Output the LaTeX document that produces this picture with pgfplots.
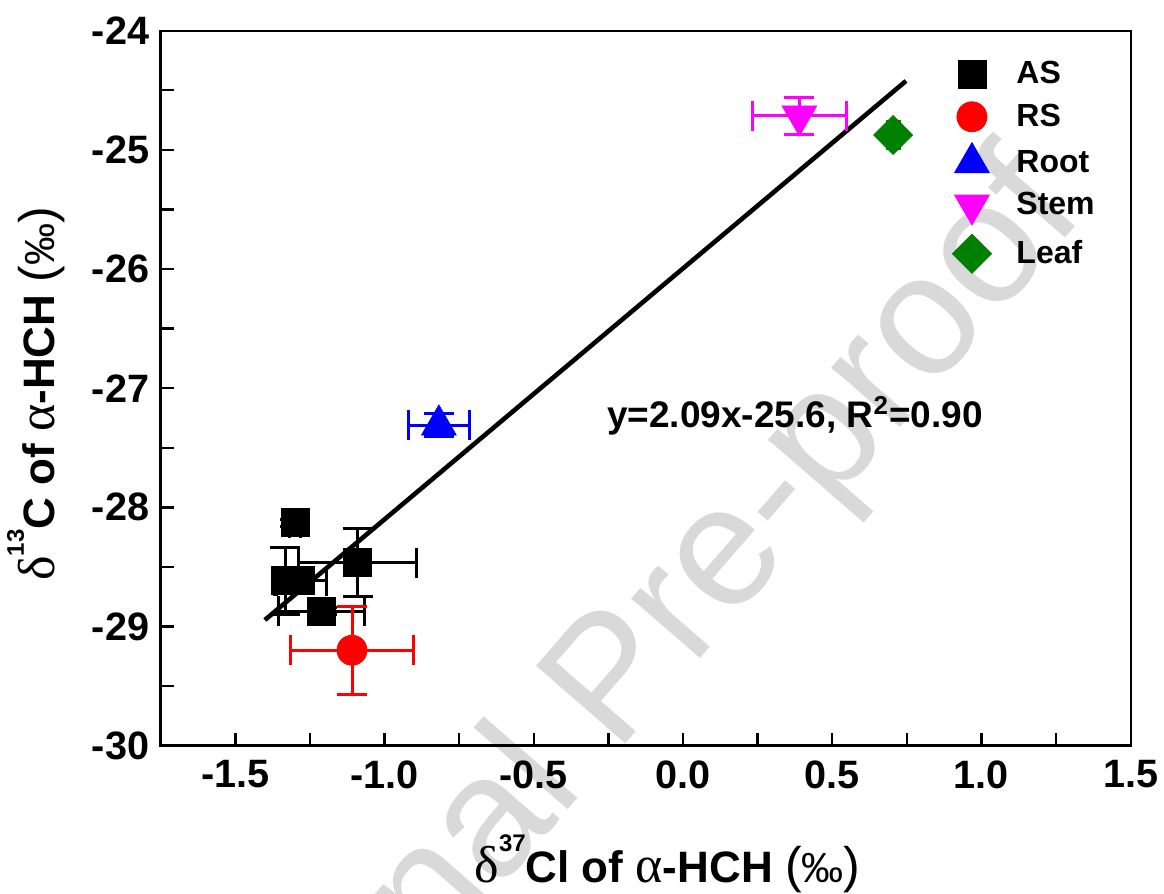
\documentclass[border=0pt]{standalone}
\usepackage{pgfplots}
\pgfplotsset{compat=1.18}
\usepackage{fontspec}
\setmainfont{Liberation Sans}
\newfontfamily\grk{Liberation Serif}
\definecolor{dgreen}{RGB}{0,128,0}
\definecolor{mag}{RGB}{255,0,255}

\newcommand\upnum[1]{\raisebox{15.5pt}{\fontsize{12}{12}\selectfont #1}}
\newcommand\gr[1]{{\grk\mdseries\fontsize{26}{26}\selectfont #1}}
\newcommand\permil{{\mdseries\fontsize{25}{25}\selectfont(}{\mdseries\fontsize{21}{21}\selectfont ‰}{\mdseries\fontsize{25}{25}\selectfont)}}

\pgfplotsset{
  ebar/.style={
    /pgfplots/error bars/x dir=both, /pgfplots/error bars/x explicit,
    /pgfplots/error bars/y dir=both, /pgfplots/error bars/y explicit,
    /pgfplots/error bars/error bar style={line width=1.5pt, #1},
    /pgfplots/error bars/error mark options={rotate=90, mark size=7.5pt, line width=1.5pt, #1}}
}

% x y ex ey
\pgfplotstableread{
x y ex ey
-1.300 -28.130 0.020 0.030
-1.090 -28.465 0.198 0.285
-1.333 -28.615 0.030 0.280
-1.282 -28.615 0.086 0.030
-1.210 -28.870 0.144 0.030
}\tAS
\pgfplotstableread{
x y ex ey
-1.109 -29.199 0.205 0.370
}\tRS
\pgfplotstableread{
x y ex ey
-0.818 -27.309 0.102 0.100
}\tRoot
\pgfplotstableread{
x y ex ey
0.390 -24.715 0.157 0.155
}\tStem
\pgfplotstableread{
x y ex ey
0.704 -24.875 0.020 0.030
}\tLeaf

\begin{document}
\begin{tikzpicture}
\useasboundingbox (-80.35pt,-74.15pt) rectangle (501.65pt,372.85pt);

% watermark
\node[rotate=49, text=black!15, font=\fontsize{86}{86}\selectfont] at (228.6pt,30.3pt) {Journal Pre-proof};

\begin{axis}[
  scale only axis, width=485pt, height=357.5pt,
  xmin=-1.75, xmax=1.5, ymin=-30, ymax=-24,
  xtick={-1.5,-1,...,1.5}, ytick={-30,-29,...,-24},
  minor x tick num=1, minor y tick num=1,
  tick align=inside, xtick pos=left, ytick pos=left,
  major tick length=6.5pt, minor tick length=6.5pt,
  axis line style={line width=1.2pt},
  every tick/.append style={line width=1.2pt, black},
  xticklabel style={font=\bfseries\fontsize{19.8}{20}\selectfont, yshift=-3.9pt,
    /pgf/number format/.cd, fixed, fixed zerofill, precision=1, assume math mode=true},
  yticklabel style={font=\bfseries\fontsize{19.8}{20}\selectfont, xshift=-2.25pt,
    /pgf/number format/.cd, fixed, assume math mode=true},
  xlabel={\gr{δ}\upnum{37}Cl of \gr{α}-HCH \permil},
  ylabel={\gr{δ}\upnum{13}C of \gr{α}-HCH \permil},
  xlabel style={at={(axis description cs:0.5225,-0.192)}, anchor=base,
    font=\bfseries\fontsize{22}{24}\selectfont},
  ylabel style={at={(axis description cs:-0.109,0.492)}, anchor=base,
    font=\bfseries\fontsize{22}{24}\selectfont},
  legend style={draw=none, fill=none, inner sep=0pt, row sep=4.6pt,
    at={(0.8158,0.963)}, anchor=north west,
    font=\bfseries\fontsize{16}{19}\selectfont,
    /tikz/every odd column/.append style={column sep=10.5pt}},
  legend cell align=left,
]

\addplot[black, line width=2.3pt, forget plot] coordinates {(-1.401,-28.945) (0.747,-24.422)};

\addplot[only marks, mark=square*, mark size=7pt, mark options={draw=black, fill=black},
  ebar=black] table[x=x, y=y, x error=ex, y error=ey] \tAS;
\addlegendentry{AS}
\addplot[only marks, mark=*, mark size=7.5pt, mark options={draw=red, fill=red},
  ebar=red] table[x=x, y=y, x error=ex, y error=ey] \tRS;
\addlegendentry{RS}
\addplot[only marks, mark=triangle*, mark size=10pt, mark options={draw=blue, fill=blue},
  ebar=blue] table[x=x, y=y, x error=ex, y error=ey] \tRoot;
\addlegendentry{Root}
\addplot[only marks, mark=triangle*, mark size=10pt, mark options={draw=mag, fill=mag, rotate=180},
  ebar=mag] table[x=x, y=y, x error=ex, y error=ey] \tStem;
\addlegendentry{Stem}
\addplot[only marks, mark=square*, mark size=6.9pt, mark options={draw=dgreen, fill=dgreen, rotate=45},
  ebar=dgreen] table[x=x, y=y, x error=ex, y error=ey] \tLeaf;
\addlegendentry{Leaf}

\node[anchor=base, font=\bfseries\fontsize{18.5}{20}\selectfont] at (axis cs:0.375,-27.326)
  {y=2.09x-25.6, R\textsuperscript{2}=0.90};

\end{axis}
\end{tikzpicture}
\end{document}
